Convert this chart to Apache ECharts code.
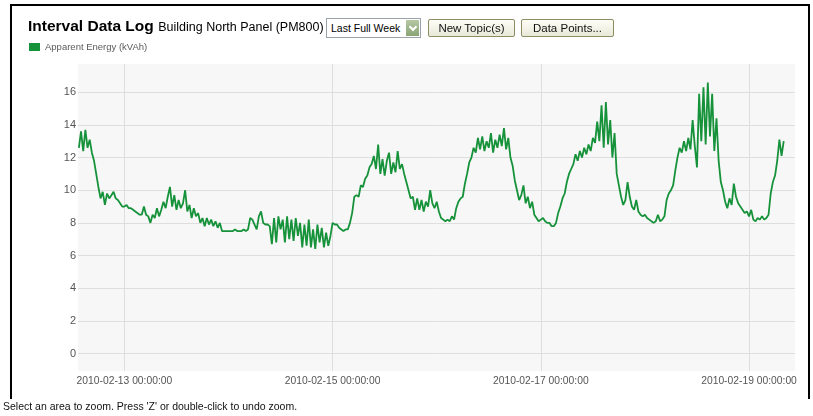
<!DOCTYPE html>
<html>
<head>
<meta charset="utf-8">
<title>Interval Data Log</title>
<script src="https://cdn.jsdelivr.net/npm/echarts@6/dist/echarts.min.js"></script>
<style>
  html, body { margin: 0; padding: 0; background: #fff; }
  body { width: 813px; height: 416px; position: relative; overflow: hidden;
         font-family: Arial, 'Liberation Sans', sans-serif; }
  #chart { position: absolute; left: 0; top: 0; width: 813px; height: 416px; }
  #frame { position: absolute; left: 10px; top: 4px; width: 796px; height: 393px;
           border: 2px solid #000; border-bottom: none; }
  #head { position: absolute; left: 28px; top: 17px; height: 18px; line-height: 18px;
          white-space: nowrap; color: #000; z-index: 2; }
  #head b { font-size: 15.5px; }
  #head span { font-size: 12.5px; }
  #period { position: absolute; left: 326px; top: 18px; width: 93px; height: 18px;
            border: 1px solid #9aa3a8; background: #fff; font-size: 10.5px; line-height: 18px;
            z-index: 2; }
  #period span { position: absolute; left: 4px; top: 0; }
  #period i { position: absolute; right: 1px; top: 1px; width: 13px; height: 16px;
              background: linear-gradient(#b6c9a4, #8aa474); }
  #period i:after { content: ''; position: absolute; left: 4px; top: 4px; width: 4px; height: 4px;
                    border-right: 2px solid #fff; border-bottom: 2px solid #fff; transform: rotate(45deg); }
  .btn { position: absolute; top: 19px; height: 16px; line-height: 16px; text-align: center;
         border: 1px solid #8d8d63; border-radius: 2px; font-size: 11.5px; color: #111;
         background: linear-gradient(#fdfdf6, #e9e9d9); z-index: 2; }
  #note { position: absolute; left: 3px; top: 400px; font-size: 10.5px; color: #111; z-index: 2; }
</style>
</head>
<body>
<div id="chart"></div>
<div id="frame"></div>
<div id="head"><b>Interval Data Log</b> <span>Building North Panel (PM800)</span></div>
<div id="period"><span>Last Full Week</span><i></i></div>
<div class="btn" style="left:428px;width:85px">New Topic(s)</div>
<div class="btn" style="left:521px;width:91px">Data Points...</div>
<div id="note">Select an area to zoom. Press 'Z' or double-click to undo zoom.</div>
<script>
// readings every 30 minutes, starting 2010-02-12 13:30
var seriesName = 'Apparent Energy (kVAh)';
var startTime = Date.UTC(2010, 1, 12, 13, 30);
var stepMs = 30 * 60 * 1000;

var day12 = [12.6, 13.6, 12.4, 13.7, 12.6, 13.1, 12.3, 11.8, 11.0, 10.2, 9.5, 9.9, 9.1, 9.8, 9.5,
  9.7, 9.9, 9.5, 9.4, 9.2, 9.0];
var day13 = [9.0, 9.1, 8.9, 8.9, 8.8, 8.7, 8.6, 8.5, 8.5, 9.0, 8.5, 8.4, 8.0, 8.5, 8.3, 8.9, 8.4,
  8.8, 9.3, 8.9, 9.6, 10.2, 9.0, 9.7, 8.8, 9.4, 8.9, 9.2, 10.0, 8.7, 9.1, 8.3, 8.9, 8.4, 8.6, 8.0,
  8.3, 7.8, 8.3, 7.9, 8.2, 7.8, 8.1, 7.7, 8.0, 7.5, 7.5, 7.5];
var day14 = [7.5, 7.5, 7.5, 7.6, 7.5, 7.5, 7.5, 7.6, 7.5, 7.6, 8.3, 8.2, 7.9, 7.6, 8.4, 8.7, 8.0,
  7.9, 7.9, 7.8, 6.7, 8.3, 6.8, 8.4, 7.6, 8.2, 6.8, 8.4, 7.0, 8.2, 6.9, 8.3, 7.2, 8.0, 6.5, 7.9,
  6.6, 8.2, 6.5, 7.6, 6.4, 7.9, 6.8, 7.7, 6.5, 7.4, 6.6, 7.2];
var day15 = [8.0, 7.9, 7.9, 7.7, 7.6, 7.5, 7.6, 7.6, 8.0, 8.6, 9.6, 9.7, 9.6, 10.3, 10.2, 10.7,
  10.9, 11.4, 11.6, 12.1, 11.3, 12.8, 11.0, 11.9, 10.9, 11.8, 12.3, 11.0, 11.7, 11.1, 12.4, 11.3,
  11.6, 11.0, 10.5, 10.0, 9.5, 9.6, 8.8, 9.5, 8.8, 9.4, 8.7, 9.3, 9.0, 10.0, 9.2, 8.9];
var day16 = [9.3, 8.7, 8.3, 8.2, 8.1, 8.2, 8.1, 8.4, 8.2, 8.9, 9.3, 9.5, 9.6, 10.4, 11.0, 11.7,
  12.0, 12.6, 12.3, 13.2, 12.5, 13.3, 12.4, 13.0, 12.6, 13.5, 12.3, 13.1, 12.6, 13.4, 12.7, 13.8,
  12.5, 13.2, 12.0, 11.5, 10.6, 10.0, 9.4, 9.7, 10.3, 9.2, 9.6, 8.9, 9.3, 8.5, 8.3, 8.1];
var day17 = [8.2, 8.3, 8.1, 8.0, 8.0, 7.8, 7.8, 8.0, 8.6, 9.0, 9.5, 9.8, 10.5, 11.0, 11.3, 11.6,
  12.2, 11.8, 12.4, 12.0, 12.6, 12.2, 12.8, 12.4, 13.2, 12.9, 14.2, 13.0, 15.2, 12.6, 15.4, 12.8,
  14.3, 12.0, 13.5, 11.0, 10.3, 9.6, 9.1, 9.4, 10.5, 9.6, 9.0, 8.8, 9.4, 8.7, 8.5, 8.4];
var day18 = [8.5, 8.3, 8.2, 8.1, 8.0, 8.1, 8.5, 8.1, 8.2, 8.4, 9.4, 9.8, 10.0, 10.3, 11.2, 12.0,
  12.6, 12.3, 13.0, 12.4, 13.2, 12.5, 14.3, 12.7, 11.4, 15.9, 13.0, 16.3, 12.8, 16.6, 13.3, 15.9,
  12.4, 14.4, 11.8, 10.5, 10.0, 9.3, 8.9, 9.5, 9.1, 10.4, 9.6, 9.2, 9.0, 8.8, 8.6, 8.7];
var day19 = [8.4, 8.8, 8.2, 8.1, 8.3, 8.2, 8.4, 8.2, 8.3, 8.5, 9.8, 10.5, 10.9, 11.8, 13.1, 12.1,
  13.0];

var yTicks = [0, 2, 4, 6, 8, 10, 12, 14, 16];
var xTicks = [Date.UTC(2010, 1, 13), Date.UTC(2010, 1, 15), Date.UTC(2010, 1, 17), Date.UTC(2010, 1, 19)];
var xMin = Date.UTC(2010, 1, 12, 13, 18);
var xMax = Date.UTC(2010, 1, 19, 10, 36);

var values = [].concat(day12, day13, day14, day15, day16, day17, day18, day19);
var points = values.map(function(v, i) {
  return [startTime + i * stepMs, v];
});

function pad(n) {
  return (n < 10 ? '0' : '') + n;
}

function stamp(ms) {
  var d = new Date(ms);
  return d.getUTCFullYear() + '-' + pad(d.getUTCMonth() + 1) + '-' + pad(d.getUTCDate()) +
    ' ' + pad(d.getUTCHours()) + ':' + pad(d.getUTCMinutes()) + ':' + pad(d.getUTCSeconds());
}

var chart = echarts.init(document.getElementById('chart'), null, { renderer: 'canvas' });

chart.setOption({
  animation: false,
  textStyle: { fontFamily: 'Arial, Liberation Sans, sans-serif' },
  legend: {
    left: 24,
    top: 37,
    icon: 'rect',
    itemWidth: 11,
    itemHeight: 8,
    itemGap: 6,
    textStyle: { fontSize: 9.5, color: '#5a5a5a' },
    data: [seriesName]
  },
  grid: {
    left: 78,
    right: 18,
    top: 64,
    bottom: 45,
    show: true,
    backgroundColor: '#f7f7f7',
    borderWidth: 0
  },
  xAxis: {
    type: 'value',
    min: xMin,
    max: xMax,
    axisLine: { show: false },
    axisTick: { show: false, customValues: xTicks },
    axisLabel: {
      customValues: xTicks,
      margin: 5,
      fontSize: 10.3,
      color: '#555',
      formatter: function(v) { return stamp(v); }
    },
    splitLine: { show: true, lineStyle: { color: '#dedede', width: 1 } }
  },
  yAxis: {
    type: 'value',
    min: -1.07,
    max: 17.73,
    axisLine: { show: false },
    axisTick: { show: false, customValues: yTicks },
    axisLabel: { customValues: yTicks, margin: 2, fontSize: 11, color: '#555' },
    splitLine: { show: true, lineStyle: { color: '#dedede', width: 1 } }
  },
  series: [{
    name: seriesName,
    type: 'line',
    data: points,
    showSymbol: false,
    color: '#16923a',
    lineStyle: { width: 1.8, color: '#16923a' }
  }]
});
</script>
</body>
</html>
